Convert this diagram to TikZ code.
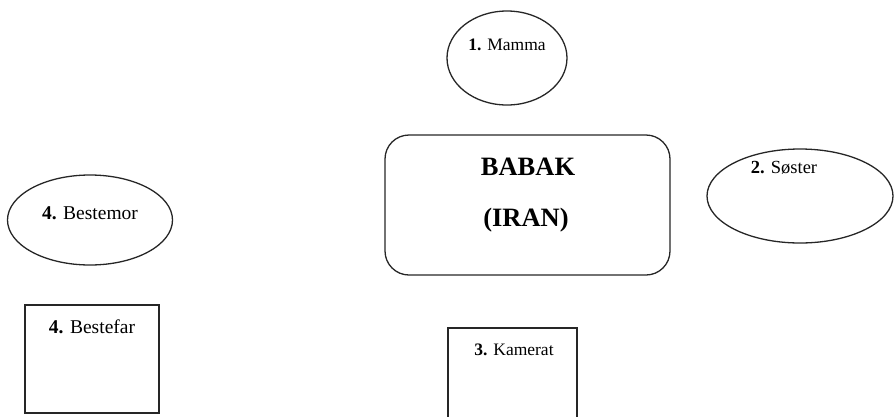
\documentclass[tikz,border=0pt]{standalone}
\usepackage{fontspec}
\setmainfont{Liberation Serif}
\usetikzlibrary{shapes.geometric}
\begin{document}
\begin{tikzpicture}[x=1pt,y=-1pt,
  shape line/.style={draw=black!85, line width=1.3pt},
  oval/.style={shape line, ellipse, inner sep=0pt},
  plainbox/.style={shape line, rectangle, inner sep=0pt},
  lbl/.style={font=\fontsize{18.5}{20}\selectfont, inner sep=0pt, anchor=base},
  big/.style={font=\fontsize{26.5}{28}\selectfont\bfseries, inner sep=0pt, anchor=base}]
\useasboundingbox (0,0) rectangle (894,416);
% Mamma
\node[oval, minimum width=120, minimum height=94] (mamma) at (507,58) {};
\node[lbl, font=\fontsize{17.5}{20}\selectfont] (mammat) at (507,50) {\textbf{1.} Mamma};
% Babak
\draw[shape line, rounded corners=24] (385,135) rectangle (670,275);
\node[inner sep=0pt, minimum width=285, minimum height=140] (babak) at (527.5,205) {};
\node[big] (babakt) at (528,175) {BABAK};
\node[big] (irant) at (526,226) {(IRAN)};
% Soster
\node[oval, minimum width=186, minimum height=94] (soster) at (800,196) {};
\node[lbl] (sostert) at (784,173) {\textbf{2.} Søster};
% Bestemor
\node[oval, minimum width=165, minimum height=90] (bestemor) at (90,220) {};
\node[lbl, font=\fontsize{19.5}{21}\selectfont] (bestemort) at (90,219) {\textbf{4.} Bestemor};
% Bestefar
\node[plainbox, minimum width=134, minimum height=108] (bestefar) at (92,359) {};
\node[lbl, font=\fontsize{19.5}{21}\selectfont] (bestefart) at (92,333) {\textbf{4.} Bestefar};
% Kamerat
\node[plainbox, minimum width=129, minimum height=94] (kamerat) at (512.5,375) {};
\node[lbl, font=\fontsize{17.5}{20}\selectfont] (kameratt) at (514,355) {\textbf{3.} Kamerat};
\end{tikzpicture}
\end{document}
